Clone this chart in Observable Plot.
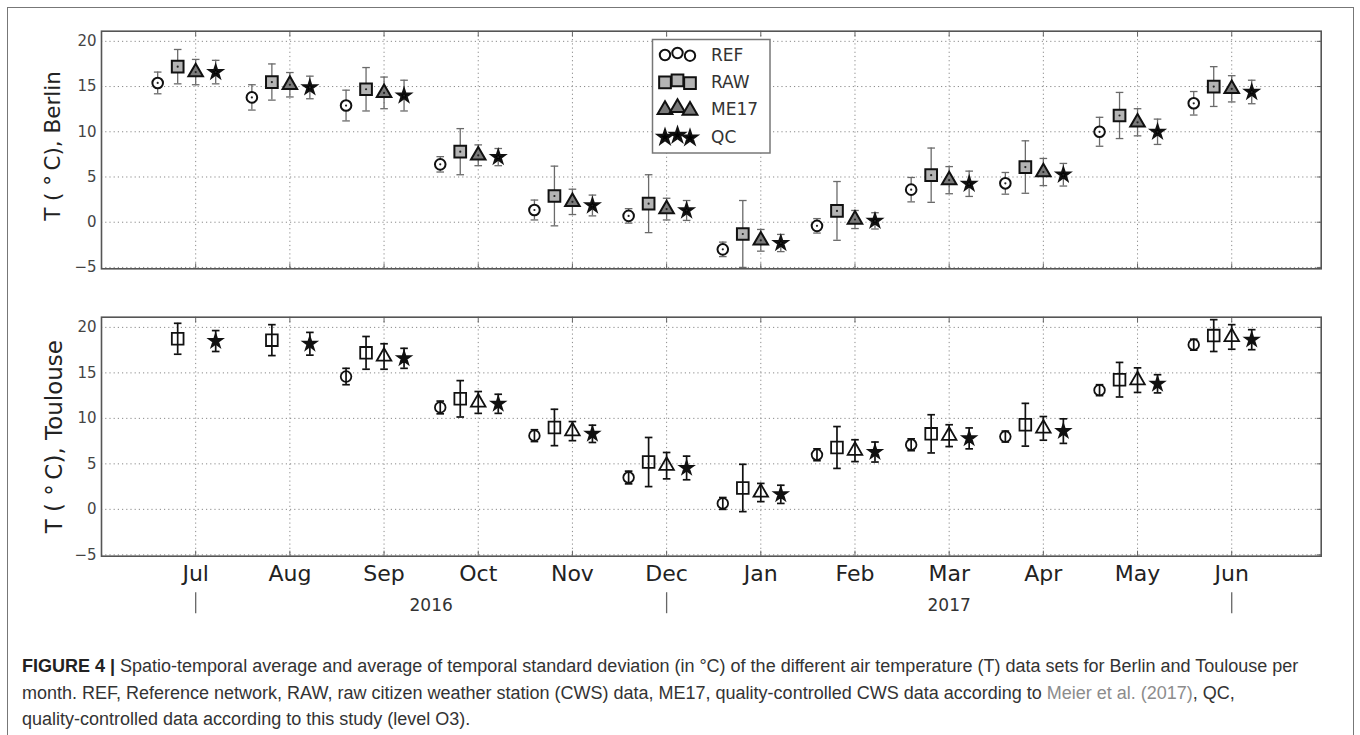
<!DOCTYPE html>
<html><head><meta charset="utf-8">
<script src="https://cdn.jsdelivr.net/npm/d3@7"></script>
<script src="https://cdn.jsdelivr.net/npm/@observablehq/plot@0.6"></script>
<style>
body{margin:0;background:#fff;width:1360px;height:735px;overflow:hidden;position:relative;font-family:"DejaVu Sans",sans-serif}
#border{position:absolute;left:7px;top:7px;width:1347px;height:760px;border:1.5px solid #777;border-bottom:none;box-sizing:border-box}
#top{position:absolute;left:0;top:0}
#bottom{position:absolute;left:0;top:280px}
#caption{position:absolute;left:22px;top:653px;font-family:"Liberation Sans",Arial,sans-serif;font-size:18px;line-height:26.5px;color:#333;white-space:nowrap}
#caption b{color:#222}
#caption .link{color:#8c8c8c}
</style></head><body>
<div id="border"></div>
<div id="top"></div>
<div id="bottom"></div>
<div id="caption"><b>FIGURE 4 |</b> Spatio-temporal average and average of temporal standard deviation (in °C) of the different air temperature (T) data sets for Berlin and Toulouse per<br>month. REF, Reference network, RAW, raw citizen weather station (CWS) data, ME17, quality-controlled CWS data according to <span class="link">Meier et al. (2017)</span>, QC,<br>quality-controlled data according to this study (level O3).</div>
<script>
// ---- data ----
const months = ["Jul","Aug","Sep","Oct","Nov","Dec","Jan","Feb","Mar","Apr","May","Jun"];
const series = ["REF","RAW","ME17","QC"];
const yTicks = [-5, 0, 5, 10, 15, 20];
const years = ["2016", "2017"];
const yearCenters = [3.5, 9];     // month-index positions of year labels
const yearBreaks = [1, 6, 12];    // month-index positions of year separators

const berlinREF   = [15.4, 13.8, 12.9, 6.4, 1.35, 0.7, -3.0, -0.4, 3.6, 4.3, 10.0, 13.15];
const berlinREFsd = [1.2, 1.4, 1.7, 0.85, 1.1, 0.8, 0.8, 0.8, 1.35, 1.2, 1.6, 1.3];
const berlinRAW   = [17.2, 15.5, 14.7, 7.8, 2.9, 2.05, -1.3, 1.25, 5.2, 6.1, 11.8, 15.0];
const berlinRAWsd = [1.9, 2.0, 2.4, 2.55, 3.3, 3.2, 3.7, 3.25, 3.0, 2.9, 2.55, 2.2];
const berlinME17   = [16.6, 15.2, 14.3, 7.4, 2.25, 1.45, -2.0, 0.3, 4.65, 5.55, 11.05, 14.75];
const berlinME17sd = [1.4, 1.35, 1.75, 1.15, 1.4, 1.2, 1.2, 1.0, 1.5, 1.5, 1.5, 1.45];
const berlinQC   = [16.6, 14.9, 14.0, 7.2, 1.85, 1.3, -2.3, 0.15, 4.25, 5.25, 10.0, 14.4];
const berlinQCsd = [1.3, 1.25, 1.7, 0.95, 1.15, 1.1, 0.95, 0.9, 1.4, 1.25, 1.4, 1.3];

const touREF   = [null, null, 14.6, 11.2, 8.1, 3.5, 0.65, 6.0, 7.1, 8.0, 13.1, 18.1];
const touREFsd = [null, null, 0.9, 0.7, 0.65, 0.7, 0.65, 0.65, 0.65, 0.6, 0.6, 0.6];
const touRAW   = [18.75, 18.6, 17.2, 12.15, 9.0, 5.2, 2.35, 6.8, 8.3, 9.3, 14.25, 19.1];
const touRAWsd = [1.7, 1.7, 1.8, 2.0, 2.0, 2.7, 2.6, 2.3, 2.1, 2.35, 1.9, 1.75];
const touME17   = [null, null, 16.8, 11.75, 8.6, 4.8, 1.85, 6.45, 8.1, 8.9, 14.2, 18.95];
const touME17sd = [null, null, 1.4, 1.2, 1.05, 1.45, 1.0, 1.2, 1.2, 1.3, 1.35, 1.35];
const touQC   = [18.5, 18.2, 16.6, 11.6, 8.3, 4.55, 1.65, 6.3, 7.8, 8.6, 13.8, 18.65];
const touQCsd = [1.15, 1.25, 1.1, 1.05, 0.95, 1.3, 1.0, 1.1, 1.15, 1.35, 1.0, 1.1];

// ---- build tables ----
const monthIndex = months.map((m, i) => i + 1);
function rows(vals, sds) {
  return months.map((m, i) => ({i: monthIndex[i], month: m, v: vals[i], sd: sds[i]})).filter(d => d.v != null);
}
const berlin = {REF: rows(berlinREF, berlinREFsd), RAW: rows(berlinRAW, berlinRAWsd), ME17: rows(berlinME17, berlinME17sd), QC: rows(berlinQC, berlinQCsd)};
const toulouse = {REF: rows(touREF, touREFsd), RAW: rows(touRAW, touRAWsd), ME17: rows(touME17, touME17sd), QC: rows(touQC, touQCsd)};

// ---- styles ----
const style = {
  REF:  {symbol: "circle",   r: 5.3, dx: -38, fill: "white"},
  RAW:  {symbol: "square",   r: 6.6, dx: -18, fill: "#b4b4b4"},
  ME17: {symbol: "triangle", r: 5.4, dx: 0,   fill: "#7a7a7a"},
  QC:   {symbol: "star",     r: 4.1, dx: 20,  fill: "black"}
};
const d3sym = {circle: d3.symbolCircle, square: d3.symbolSquare, triangle: d3.symbolTriangle, star: d3.symbolStar};
const capSymbol = {draw(ctx, size) { const w = Math.sqrt(size / Math.PI); ctx.moveTo(-w, 0); ctx.lineTo(w, 0); }};
const vbarSymbol = {draw(ctx, size) { const h = Math.sqrt(size / Math.PI); ctx.moveTo(0, -h); ctx.lineTo(0, h); }};

const xDomain = [0, 12.95];
const yDomain = [-5.15, 21.12];
const FONT = "DejaVu Sans";

function frameMarks() {
  return [
    Plot.gridX(monthIndex, {stroke: "#8a8a8a", strokeOpacity: 1, strokeDasharray: "1.2,3", strokeWidth: 1}),
    Plot.gridY(yTicks, {stroke: "#8a8a8a", strokeOpacity: 1, strokeDasharray: "1.2,3", strokeWidth: 1}),
    Plot.axisY({ticks: yTicks, tickSize: 0, tickPadding: 5, fontSize: 15, color: "#444", label: null}),
    Plot.axisX({anchor: "top", ticks: monthIndex, tickSize: -5, tickFormat: () => "", label: null, stroke: "#666"}),
    Plot.axisX({anchor: "bottom", ticks: monthIndex, tickSize: -5, tickFormat: () => "", label: null, stroke: "#666"}),
    Plot.axisY({anchor: "right", ticks: yTicks, tickSize: -5, tickFormat: () => "", label: null, stroke: "#666"})
  ];
}

function seriesMarks(data, filled) {
  const marks = [];
  const errStroke = filled ? "#6a6a6a" : "#111";
  const errW = filled ? 1.3 : 1.7;
  for (const s of series) {
    const st = style[s];
    const d = data[s];
    const err = [
      Plot.ruleX(d, {x: "i", y1: r => r.v - r.sd, y2: r => r.v + r.sd, dx: st.dx, stroke: errStroke, strokeWidth: errW}),
      Plot.dot(d, {x: "i", y: r => r.v + r.sd, dx: st.dx, symbol: capSymbol, r: 3.8, fill: "none", stroke: errStroke, strokeWidth: errW}),
      Plot.dot(d, {x: "i", y: r => r.v - r.sd, dx: st.dx, symbol: capSymbol, r: 3.8, fill: "none", stroke: errStroke, strokeWidth: errW})
    ];
    if (filled) {
      marks.push(...err);
      marks.push(Plot.dot(d, {x: "i", y: "v", dx: st.dx, symbol: st.symbol, r: st.r, fill: st.fill, stroke: "#111", strokeWidth: 2}));
      marks.push(Plot.dot(d, {x: "i", y: "v", dx: st.dx, r: 1.1, fill: "#222", stroke: "none"}));
    } else {
      const f = s === "QC" ? "#111" : "none";
      marks.push(Plot.dot(d, {x: "i", y: "v", dx: st.dx, symbol: st.symbol, r: st.r, fill: f, stroke: "#111", strokeWidth: 1.8}));
      marks.push(...err);
    }
  }
  return marks;
}

// ---- top panel (Berlin) ----
const topChart = Plot.plot({
  width: 1360, height: 280,
  marginLeft: 101, marginRight: 39.3, marginTop: 30.7, marginBottom: 11.7,
  style: {fontFamily: FONT, background: "transparent", overflow: "visible"},
  x: {domain: xDomain}, y: {domain: yDomain},
  marks: [
    ...frameMarks(),
    ...seriesMarks(berlin, true),
    Plot.text(["T ( °\u2009C), Berlin"], {frameAnchor: "left", textAnchor: "middle", rotate: -90, dx: -48, dy: -4, fontSize: 21.5, fill: "#222"}),
    Plot.frame({stroke: "#555", strokeWidth: 1.6})
  ]
});
document.getElementById("top").appendChild(topChart);

// legend (inside top panel)
{
  const g = d3.select(topChart).append("g").attr("text-anchor", "start");
  g.append("rect").attr("x", 652.5).attr("y", 39.5).attr("width", 117.5).attr("height", 113.5)
    .attr("fill", "white").attr("stroke", "#777").attr("stroke-width", 1.5);
  const lx = [665, 677.5, 690];
  const jitter = [0.5, -1.5, 1.2];
  const lr = {REF: 5.2, RAW: 6.6, ME17: 5.5, QC: 4.5};
  series.forEach((s, k) => {
    const y = 54.5 + k * 27.4;
    lx.forEach((x, j) => {
      g.append("path")
        .attr("d", d3.symbol(d3sym[style[s].symbol], Math.PI * lr[s] * lr[s])())
        .attr("transform", `translate(${x},${y + jitter[j]})`)
        .attr("fill", style[s].fill).attr("stroke", "#111").attr("stroke-width", 2);
    });
    g.append("text").attr("x", 711).attr("y", y).attr("dy", "0.36em").attr("text-anchor", "start")
      .attr("font-size", 17).attr("fill", "#333").attr("font-family", FONT).text(s);
  });
}

// ---- bottom panel (Toulouse) ----
const bottomChart = Plot.plot({
  width: 1360, height: 340,
  marginLeft: 101, marginRight: 39.3, marginTop: 36.7, marginBottom: 64.3,
  style: {fontFamily: FONT, background: "transparent", overflow: "visible"},
  x: {domain: xDomain}, y: {domain: yDomain},
  marks: [
    ...frameMarks(),
    Plot.axisX({ticks: monthIndex, tickFormat: i => months[i - 1], tickSize: 0, tickPadding: 9, fontSize: 22, color: "#222", label: null}),
    Plot.text(years, {x: (d, k) => yearCenters[k], text: d => d, frameAnchor: "bottom", lineAnchor: "middle", dy: 49, fontSize: 17, fill: "#333"}),
    Plot.dot(yearBreaks, {x: d => d, frameAnchor: "bottom", dy: 46.5, symbol: vbarSymbol, r: 10.5, stroke: "#666", strokeWidth: 1.3, fill: "none"}),
    ...seriesMarks(toulouse, false),
    Plot.text(["T ( °\u2009C), Toulouse"], {frameAnchor: "left", textAnchor: "middle", rotate: -90, dx: -47, fontSize: 23, fill: "#222"}),
    Plot.frame({stroke: "#555", strokeWidth: 1.6})
  ]
});
document.getElementById("bottom").appendChild(bottomChart);
</script>
</body></html>
